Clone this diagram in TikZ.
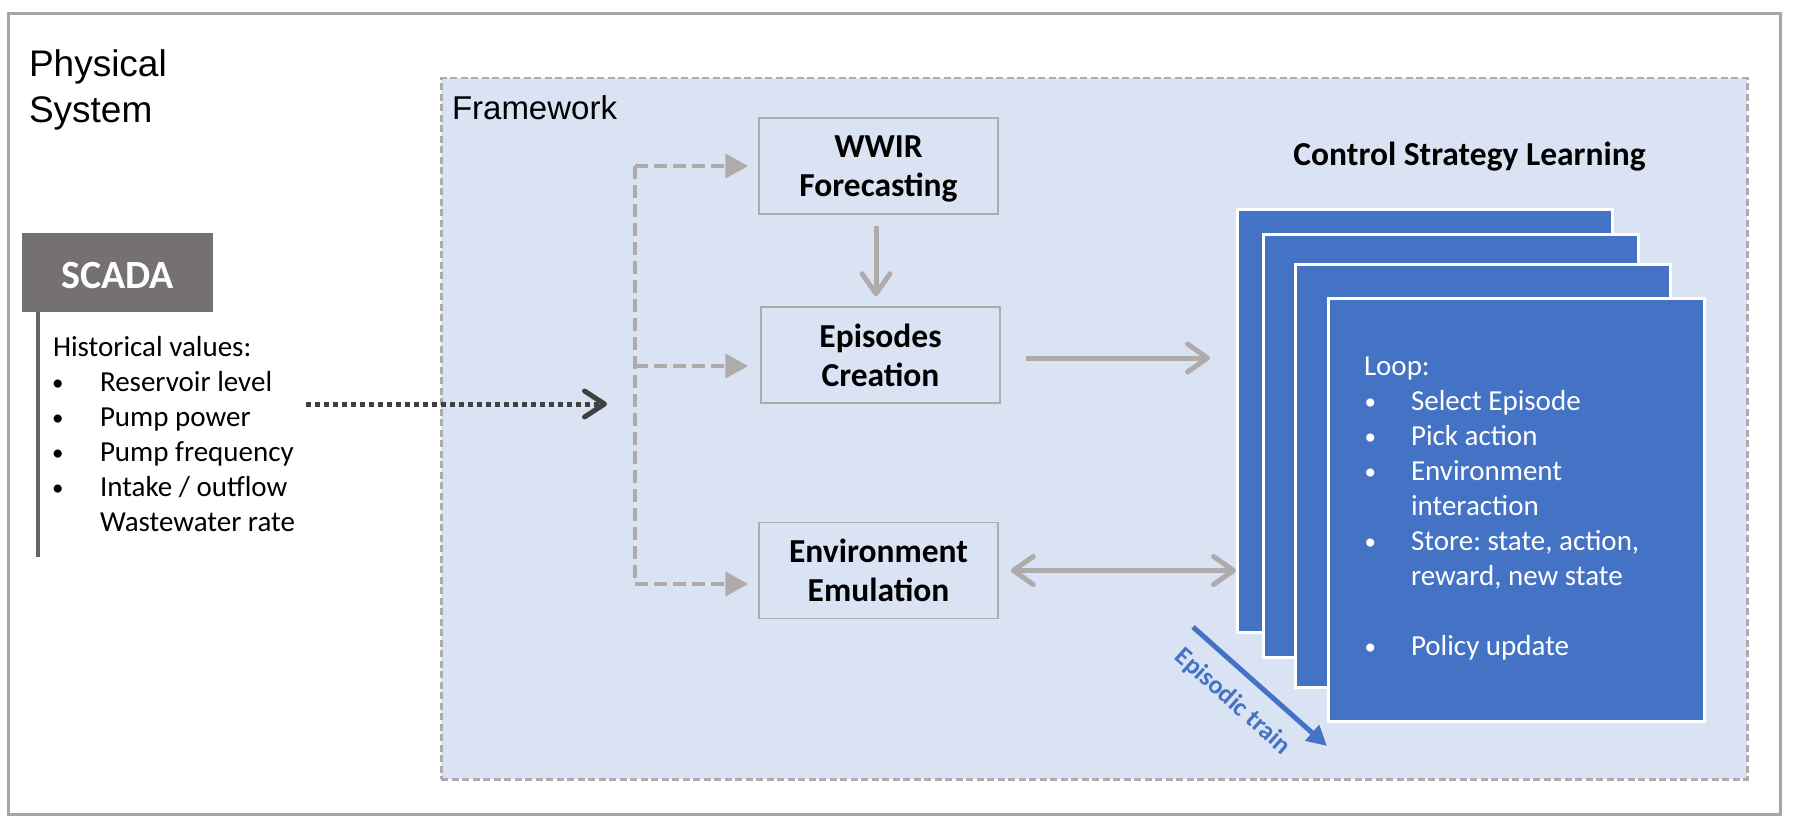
\documentclass[tikz,border=0pt]{standalone}
\usepackage{fontspec}
\setmainfont{Carlito}
\newfontfamily\arialf{Liberation Sans}
\usetikzlibrary{arrows.meta,calc}
\definecolor{fwfill}{HTML}{DAE3F3}
\definecolor{boxgray}{HTML}{AFABAB}
\definecolor{arrgray}{HTML}{AFABAB}
\definecolor{outgray}{HTML}{A6A6A6}
\definecolor{scadafill}{HTML}{767171}
\definecolor{scadaline}{HTML}{646464}
\definecolor{dotgray}{HTML}{404040}
\definecolor{blueacc}{HTML}{4472C4}
\newcommand\fsz[2]{\fontsize{#1}{#2}\selectfont}
\frenchspacing
\begin{document}
\begin{tikzpicture}[x=1pt,y=-1pt,
  txt/.style={inner sep=0pt, outer sep=0pt, anchor=base west},
  listtxt/.style={txt, font=\fsz{29}{35}},
  bul/.style={txt, font=\fsz{23}{27}},
  whitetxt/.style={listtxt, text=white},
  whitebul/.style={bul, text=white},
  box/.style={draw=boxgray, line width=1.5pt, fill=fwfill, minimum width=239pt, minimum height=96pt, inner sep=0pt, align=center, font=\bfseries\fsz{33.5}{39}},
  stk/.style={draw=white, line width=2.5pt, fill=blueacc, minimum width=375pt, minimum height=423pt, inner sep=0pt, anchor=north west},
  garrow/.style={draw=arrgray, line width=5pt, -{Straight Barb[length=20pt,width=28pt,round]}},
  gdarrow/.style={draw=arrgray, line width=5pt, {Straight Barb[length=20pt,width=28pt,round]}-{Straight Barb[length=20pt,width=28pt,round]}},
  dashl/.style={draw=arrgray, line width=4pt, dash pattern=on 13pt off 6pt},
  dasharr/.style={dashl, -{Triangle[length=23pt,width=24pt]}},
  dotarr/.style={draw=dotgray, line width=5pt, dash pattern=on 5pt off 4pt, -{Straight Barb[length=20pt,width=26pt,round]}},
  bluearr/.style={draw=blueacc, line width=5pt, -{Triangle[length=20pt,width=20pt]}}
]
\useasboundingbox (0,0) rectangle (1794,832);
\fill[white] (0,0) rectangle (1794,832);
\node[draw=outgray, line width=3pt, minimum width=1772pt, minimum height=801pt, inner sep=0pt, anchor=north west] (outer) at (7,12) {};
\node[draw=boxgray, dash pattern=on 7pt off 3.5pt, line width=2.5pt, fill=fwfill, minimum width=1306pt, minimum height=701pt, anchor=north west, inner sep=0pt] (fw) at (440,77) {};

\node[txt, font=\arialf\fsz{37}{44}] (ps1) at (29,77) {Physical};
\node[txt, font=\arialf\fsz{37}{44}] (ps2) at (29,123) {System};
\node[txt, font=\arialf\fsz{33}{39}] (fwl) at (452,120) {Framework};

% SCADA
\node[fill=scadafill, minimum width=191pt, minimum height=79pt, inner sep=0pt, anchor=north west] (scada) at (22,233) {};
\node[txt, anchor=base, text=white, font=\bfseries\fsz{40}{48}] (scadal) at (117.5,288) {SCADA};
\draw[scadaline, line width=4.5pt] ($(scada.south west)+(16,0)$) coordinate (sl0) -- ++(0,245) coordinate (sl1);

\node[listtxt] (h0) at (53,356) {Historical values:};
\node[bul] (hb1) at (52,390) {•};
\node[listtxt] (h1) at (100,391) {Reservoir level};
\node[bul] (hb2) at (52,425) {•};
\node[listtxt] (h2) at (100,426) {Pump power};
\node[bul] (hb3) at (52,460) {•};
\node[listtxt] (h3) at (100,461) {Pump frequency};
\node[bul] (hb4) at (52,495) {•};
\node[listtxt] (h4) at (100,496) {Intake / outflow};
\node[listtxt] (h5) at (100,531) {Wastewater rate};

% boxes
\node[box] (wwir) at (878.5,166) {WWIR\\\smash{Forecasting}};
\node[box] (epi) at (880.5,355) {Episodes\\Creation};
\node[box] (env) at (878.5,570.5) {Environment\\Emulation};

% stack
\node[stk] (s1) at (1236,208) {};
\node[stk] (s2) at (1262,233) {};
\node[stk] (s3) at (1294,263) {};
\node[stk, minimum width=376pt] (s4) at (1327,297) {};

\node[txt, anchor=base, font=\bfseries\fsz{33.5}{39}] (csl) at (1469.5,165) {Control Strategy Learning};

\node[whitetxt] (l0) at (1364,375) {Loop:};
\node[whitebul] (lb1) at (1364.5,409) {•};
\node[whitetxt] (l1) at (1411,410) {Select Episode};
\node[whitebul] (lb2) at (1364.5,444) {•};
\node[whitetxt] (l2) at (1411,445) {Pick action};
\node[whitebul] (lb3) at (1364.5,479) {•};
\node[whitetxt] (l3) at (1411,480) {Environment};
\node[whitetxt] (l3b) at (1411,515) {interaction};
\node[whitebul] (lb4) at (1364.5,549) {•};
\node[whitetxt] (l4) at (1411,550) {Store: state, action,};
\node[whitetxt] (l4b) at (1411,585) {reward, new state};
\node[whitebul] (lb5) at (1364.5,654) {•};
\node[whitetxt] (l5) at (1411,655) {Policy update};

% arrows
\draw[garrow, shorten <=11pt, shorten >=10pt] ([xshift=-2.5pt]wwir.south) -- ([xshift=-2.5pt]wwir.south |- epi.north);
\draw[garrow] ($(epi.east)+(25,3)$) -- ($(s1.west |- epi.east)+(-26,3)$);
\draw[gdarrow, shorten <=12pt] (env.east) -- (s1.west |- env.east);

\coordinate (bt) at (635,166);
\coordinate (bm) at (635,366);
\coordinate (bb) at (635,584);
\draw[dashl] (bt) -- (bb);
\draw[dasharr, shorten >=10pt] (bt) -- (bt -| wwir.west);
\draw[dasharr, shorten >=12pt] (bm) -- (bm -| epi.west);
\draw[dasharr, shorten >=10pt] (bb) -- (bb -| env.west);

\coordinate (d0) at (306,404);
\coordinate (d1) at (607,404);
\draw[dotarr] (d0) -- (d1);

\coordinate (et0) at (1193,627);
\coordinate (et1) at (1327,746);
\draw[bluearr] (et0) -- (et1);
\node[rotate=-41.6, anchor=base, inner sep=0pt, text=blueacc, font=\bfseries\fsz{26}{31}] (etl) at (1228,707) {Episodic train};
\end{tikzpicture}
\end{document}
